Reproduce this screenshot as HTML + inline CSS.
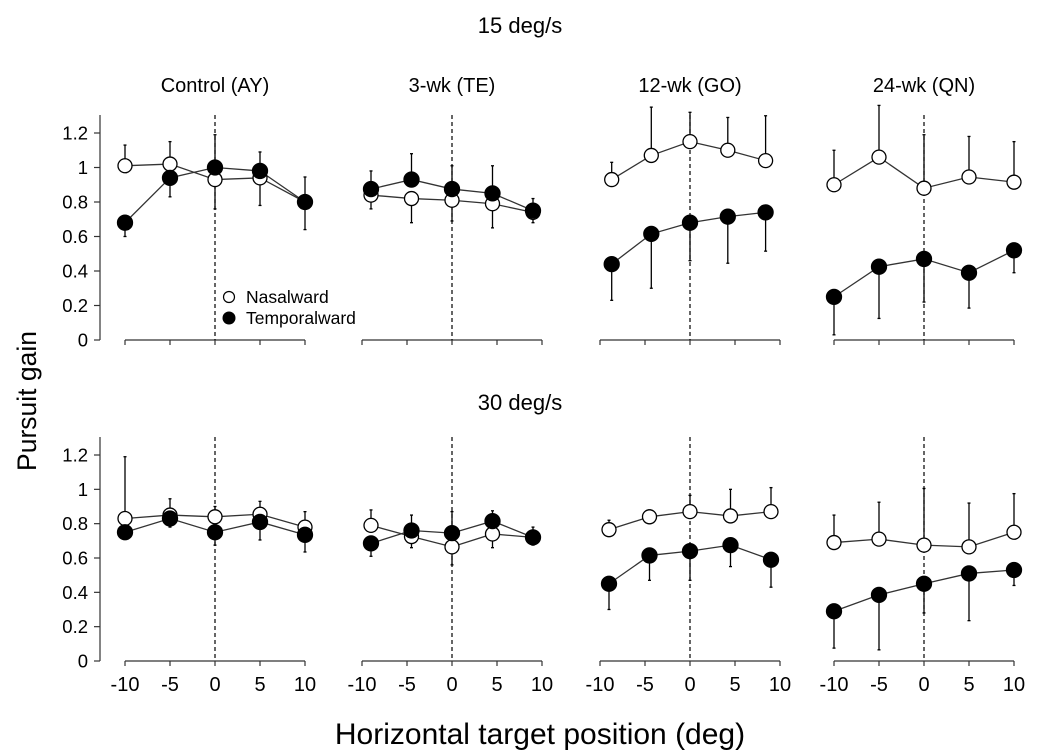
<!DOCTYPE html>
<html><head><meta charset="utf-8"><style>
body{margin:0;background:#fff;}
svg{display:block;font-family:"Liberation Sans",Arial,sans-serif;}
</style></head><body>
<svg id="chart" width="1050" height="756" viewBox="0 0 1050 756">
<text x="520" y="33" font-size="22" text-anchor="middle">15 deg/s</text>
<text x="520" y="410" font-size="22" text-anchor="middle">30 deg/s</text>
<text transform="translate(36,401) rotate(-90)" font-size="26.5" text-anchor="middle">Pursuit gain</text>
<text x="540" y="744" font-size="30" text-anchor="middle">Horizontal target position (deg)</text>
<g id="plots"></g>
<g>
<circle cx="229" cy="297" r="5.5" fill="#fff" stroke="#000" stroke-width="1.2"/>
<text x="246" y="303" font-size="17.5">Nasalward</text>
<circle cx="229" cy="318" r="6.5" fill="#000"/>
<text x="246" y="324" font-size="17.5">Temporalward</text>
</g>
</svg>
<script>
const panelTitles = ["Control (AY)", "3-wk (TE)", "12-wk (GO)", "24-wk (QN)"];
const yTicks = [0, 0.2, 0.4, 0.6, 0.8, 1, 1.2];
const yTickLabels = ["0", "0.2", "0.4", "0.6", "0.8", "1", "1.2"];
const xTicks = [-10, -5, 0, 5, 10];
const xTickLabels = ["-10", "-5", "0", "5", "10"];
// rows: 0 = 15 deg/s, 1 = 30 deg/s; panels in order
const xPos = [
  [[-10,-5,0,5,10], [-9,-4.5,0,4.5,9], [-8.7,-4.3,0,4.2,8.4], [-10,-5,0,5,10]],
  [[-10,-5,0,5,10], [-9,-4.5,0,4.5,9], [-9,-4.5,0,4.5,9], [-10,-5,0,5,10]]
];
const nasal = [
  [[1.01,1.02,0.93,0.94,0.80], [0.84,0.82,0.81,0.79,0.74], [0.93,1.07,1.15,1.10,1.04], [0.90,1.06,0.88,0.945,0.915]],
  [[0.83,0.85,0.84,0.855,0.78], [0.79,0.725,0.665,0.74,0.72], [0.765,0.84,0.87,0.845,0.87], [0.69,0.71,0.675,0.665,0.75]]
];
const nasalErrEnd = [
  [[1.13,1.15,0.76,0.78,0.945], [0.76,0.68,0.69,0.65,0.68], [1.03,1.35,1.32,1.29,1.30], [1.10,1.36,1.19,1.18,1.15]],
  [[1.19,0.945,0.90,0.93,0.87], [0.88,0.66,0.56,0.66,0.675], [0.82,0.88,0.965,1.0,1.01], [0.85,0.925,1.005,0.92,0.975]]
];
const temporal = [
  [[0.68,0.94,1.00,0.98,0.80], [0.875,0.93,0.875,0.85,0.75], [0.44,0.615,0.68,0.715,0.74], [0.25,0.425,0.47,0.39,0.52]],
  [[0.75,0.83,0.75,0.81,0.735], [0.685,0.76,0.745,0.815,0.72], [0.45,0.615,0.64,0.675,0.59], [0.29,0.385,0.45,0.51,0.53]]
];
const temporalErrEnd = [
  [[0.60,0.83,1.19,1.09,0.64], [0.98,1.08,1.01,1.01,0.82], [0.23,0.30,0.46,0.445,0.515], [0.03,0.125,0.22,0.185,0.39]],
  [[0.715,0.78,0.675,0.705,0.635], [0.61,0.85,0.87,0.875,0.78], [0.30,0.47,0.47,0.55,0.43], [0.075,0.065,0.28,0.235,0.44]]
];

const NS = "http://www.w3.org/2000/svg";
const root = document.getElementById("plots");
const panelX0 = [125, 362, 600, 834];
const panelW = 180;
const rowY0 = [340, 661];
const rowH = [207, 206];
const axisTop = [115, 437];
function el(tag, attrs, parent){
  const e = document.createElementNS(NS, tag);
  for (const k in attrs) e.setAttribute(k, attrs[k]);
  (parent || root).appendChild(e);
  return e;
}
function xScale(p, v){ return panelX0[p] + (v + 10) / 20 * panelW; }
function yScale(r, v){ return rowY0[r] - v / 1.2 * rowH[r]; }

for (let r = 0; r < 2; r++) {
  const ya = el("g", {});
  
  
  el("line", {x1:100, x2:100, y1:axisTop[r], y2:rowY0[r], stroke:"#333", "stroke-width":1.2}, ya);
  yTicks.forEach((t, i) => {
    const y = yScale(r, t);
    el("line", {x1:94, x2:100, y1:y, y2:y, stroke:"#333", "stroke-width":1.2}, ya);
    const tx = el("text", {x:88, y:y + 6.5, "font-size":18.5, "text-anchor":"end"}, ya);
    
    
    tx.textContent = yTickLabels[i];
  });
  for (let p = 0; p < 4; p++) {
    const g = el("g", {});
    
    
    if (r === 0) {
      const tt = el("text", {x:xScale(p, 0), y:92, "font-size":20, "text-anchor":"middle"}, g);
      
      
      tt.textContent = panelTitles[p];
    }
    el("line", {x1:xScale(p, -10), x2:xScale(p, 10), y1:rowY0[r], y2:rowY0[r], stroke:"#333", "stroke-width":1.2}, g);
    xTicks.forEach((t, i) => {
      const x = xScale(p, t);
      el("line", {x1:x, x2:x, y1:rowY0[r], y2:rowY0[r] + 5, stroke:"#333", "stroke-width":1.2}, g);
      if (r === 1) {
        const tx = el("text", {x:x, y:691, "font-size":20, "text-anchor":"middle"}, g);
        
        
        tx.textContent = xTickLabels[i];
      }
    });
    const dz = el("line", {x1:xScale(p, 0), x2:xScale(p, 0), y1:axisTop[r], y2:rowY0[r], stroke:"#000", "stroke-width":1.2, "stroke-dasharray":"4,3"}, g);
    
    
    const series = [
      {name:"nasalward", vals:nasal[r][p], errs:nasalErrEnd[r][p], fill:"#fff", rad:7},
      {name:"temporalward", vals:temporal[r][p], errs:temporalErrEnd[r][p], fill:"#000", rad:7.5}
    ];
    series.forEach(s => {
      const xs = xPos[r][p];
      s.vals.forEach((v, i) => {
        const x = xScale(p, xs[i]);
        const ye = yScale(r, s.errs[i]);
        const eb = el("line", {x1:x, x2:x, y1:yScale(r, v), y2:ye, stroke:"#000", "stroke-width":1.3}, g);
        
        
        el("line", {x1:x - 1.5, x2:x + 1.5, y1:ye, y2:ye, stroke:"#000", "stroke-width":1.3}, g);
      });
      const pts = s.vals.map((v, i) => xScale(p, xs[i]) + "," + yScale(r, v)).join(" ");
      const pl = el("polyline", {points:pts, fill:"none", stroke:"#333", "stroke-width":1.3}, g);
      
      
    });
    series.forEach(s => {
      const xs = xPos[r][p];
      s.vals.forEach((v, i) => {
        const c = el("circle", {cx:xScale(p, xs[i]), cy:yScale(r, v), r:s.rad, fill:s.fill, stroke:"#000", "stroke-width":1.3}, g);
        
        
      });
    });
  }
}
</script>
</body></html>
